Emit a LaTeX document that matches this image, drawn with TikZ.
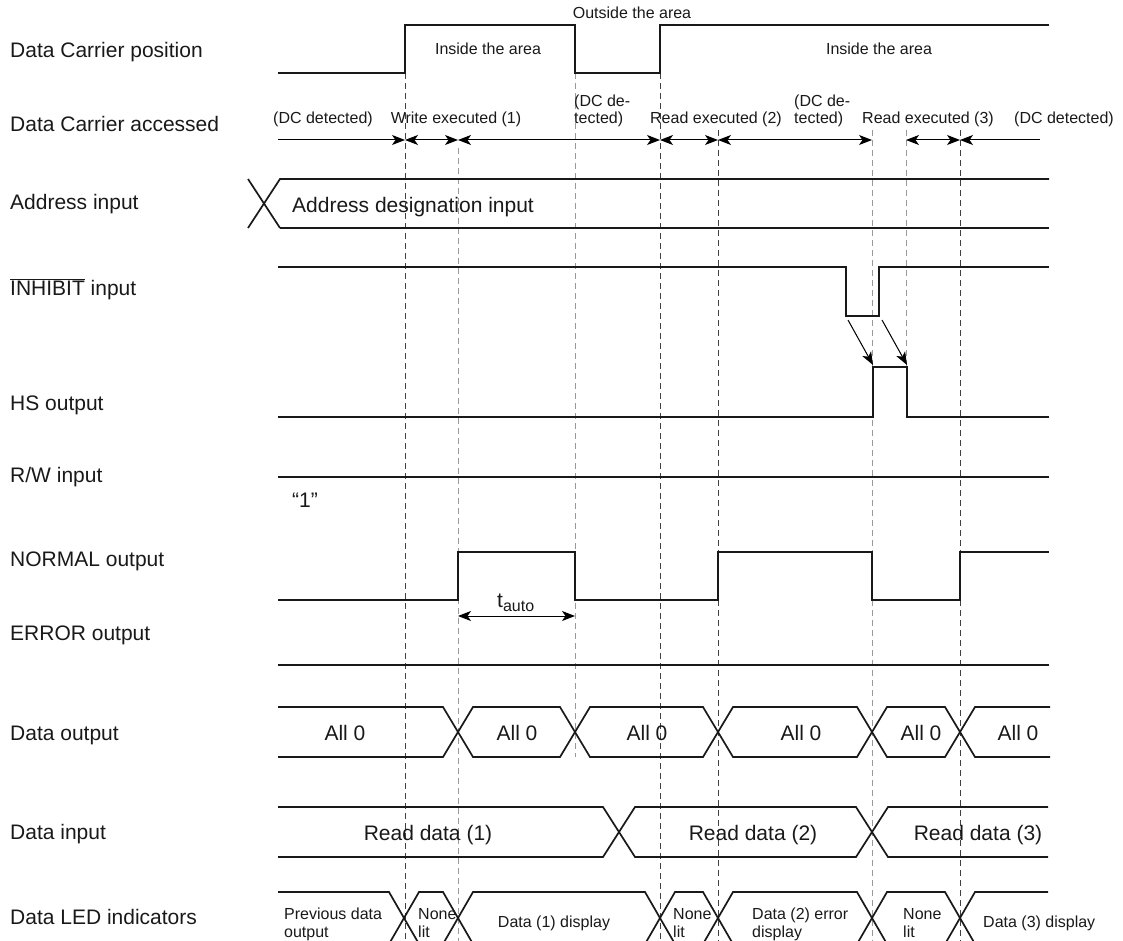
\documentclass[tikz,border=0pt]{standalone}
\usepackage{fontspec}
\setmainfont{Liberation Sans}
\usetikzlibrary{arrows.meta}
\begin{document}
\begin{tikzpicture}[x=1pt,y=-1pt,
  sig/.style={line width=2pt, line join=miter, color=black!90},
  bus/.style={line width=1.7pt, line join=miter, color=black!90},
  gdark/.style={line width=0.9pt, dash pattern=on 6pt off 4pt, color=black!75},
  glight/.style={line width=0.9pt, dash pattern=on 6pt off 4pt, color=black!40},
  acc/.style={line width=1pt},
  tip/.tip={Stealth[length=13pt,width=10pt,inset=3.5pt]},
  lbl/.style={anchor=base west, inner sep=0pt, font=\fontsize{21}{25}\selectfont, text=black!90},
  big/.style={anchor=base, inner sep=0pt, font=\fontsize{21}{25}\selectfont, text=black!90},
  sm/.style={anchor=base, inner sep=0pt, font=\fontsize{16}{19}\selectfont, text=black!90},
  smw/.style={anchor=base west, inner sep=0pt, font=\fontsize{16}{19}\selectfont, text=black!90}
]
\useasboundingbox (0,0) rectangle (1123,941);

% ---- guide lines
\draw[gdark] (405,73) -- (405,941);
\draw[gdark] (660,73) -- (660,941);
\draw[gdark] (718,130) -- (718,941);
\draw[gdark] (960,130) -- (960,941);
\draw[glight] (458,148) -- (458,941);
\draw[glight] (575,73) -- (575,757);
\draw[glight] (872,130) -- (872,941);
\draw[glight] (906,130) -- (906,367);

% ---- left labels
\node[lbl] (l1) at (10,57.5) {Data Carrier position};
\node[lbl] (l2) at (10,131.5) {Data Carrier accessed};
\node[lbl] (l3) at (10,209.5) {Address input};
\node[lbl] (l4) at (10,295.5) {$\overline{\mbox{INHIBIT}}$ input};
\node[lbl] (l5) at (10,410.5) {HS output};
\node[lbl] (l6) at (10,482.5) {R/W input};
\node[lbl] (l7) at (10,566.5) {NORMAL output};
\node[lbl] (l8) at (10,640.5) {ERROR output};
\node[lbl] (l9) at (10,740.5) {Data output};
\node[lbl] (l10) at (10,839.5) {Data input};
\node[lbl] (l11) at (10,924.5) {Data LED indicators};

% ---- Data Carrier position
\draw[sig] (278,73) -- (405,73) -- (405,25) -- (575,25) -- (575,73) -- (660,73) -- (660,25) -- (1049,25);
\node[sm] (out) at (632,19) {Outside the area};
\node[sm] (in1) at (488,55) {Inside the area};
\node[sm] (in2) at (879,55) {Inside the area};

% ---- Data Carrier accessed
\coordinate (a0) at (278,140);
\coordinate (a1) at (405,140);
\coordinate (a2) at (458,140);
\coordinate (a3) at (660,140);
\coordinate (a4) at (718,140);
\coordinate (a5) at (872,140);
\coordinate (a6) at (906,140);
\coordinate (a7) at (960,140);
\coordinate (a8) at (1040,140);
\draw[acc,-tip] (a0) -- (a1);
\draw[acc,tip-tip] (a1) -- (a2);
\draw[acc,tip-tip] (a2) -- (a3);
\draw[acc,tip-tip] (a3) -- (a4);
\draw[acc,tip-tip] (a4) -- (a5);
\draw[acc,tip-tip] (a6) -- (a7);
\draw[acc,tip-] (a7) -- (a8);
\node[sm] (t1) at (323,124) {(DC detected)};
\node[sm] (t2) at (456,124) {Write executed (1)};
\node[smw] (t3a) at (574,107) {(DC de-};
\node[smw] (t3b) at (574,124) {tected)};
\node[sm] (t4) at (716,124) {Read executed (2)};
\node[smw] (t5a) at (794,107) {(DC de-};
\node[smw] (t5b) at (794,124) {tected)};
\node[sm] (t6) at (928,124) {Read executed (3)};
\node[sm] (t7) at (1064,124) {(DC detected)};

% ---- Address input
\draw[bus] (248,179) -- (280,228);
\draw[bus] (248,228) -- (280,179) -- (1049,179);
\draw[bus] (280,228) -- (1049,228);
\node[lbl] (adr) at (292,212.5) {Address designation input};

% ---- INHIBIT input
\draw[sig] (278,267) -- (846,267) -- (846,316) -- (879,316) -- (879,267) -- (1049,267);

% ---- HS output
\draw[sig] (278,417) -- (873,417) -- (873,367) -- (907,367) -- (907,417) -- (1049,417);
\coordinate (i1) at (848,320);
\coordinate (h1) at (873,365);
\coordinate (i2) at (882,320);
\coordinate (h2) at (907,365);
\draw[acc,-tip] (i1) -- (h1);
\draw[acc,-tip] (i2) -- (h2);

% ---- R/W input
\draw[sig] (278,477) -- (1049,477);
\node[lbl] (one) at (292,507) {“1”};

% ---- NORMAL output
\draw[sig] (278,600) -- (458,600) -- (458,552) -- (575,552) -- (575,600) -- (718,600) -- (718,552) -- (872,552) -- (872,600) -- (960,600) -- (960,552) -- (1049,552);
\coordinate (ta) at (458,616);
\coordinate (tb) at (575,616);
\draw[acc,tip-tip] (ta) -- (tb);
\node[lbl] (tauto) at (497,607) {t\raisebox{-4pt}{\fontsize{16}{16}\selectfont auto}};

% ---- ERROR output
\draw[sig] (278,665) -- (1049,665);

% ---- Data output
\draw[bus] (278,707) -- (443,707) -- (473,757) -- (560,757) -- (590,707) -- (703,707) -- (733,757) -- (857,757) -- (887,707) -- (945,707) -- (975,757) -- (1050,757);
\draw[bus] (278,757) -- (443,757) -- (473,707) -- (560,707) -- (590,757) -- (703,757) -- (733,707) -- (857,707) -- (887,757) -- (945,757) -- (975,707) -- (1050,707);
\node[big] (d1) at (345,740.5) {All 0};
\node[big] (d2) at (517,740.5) {All 0};
\node[big] (d3) at (647,740.5) {All 0};
\node[big] (d4) at (801,740.5) {All 0};
\node[big] (d5) at (921,740.5) {All 0};
\node[big] (d6) at (1018,740.5) {All 0};

% ---- Data input
\draw[bus] (278,807) -- (603,807) -- (635,857) -- (856,857) -- (888,807) -- (1048,807);
\draw[bus] (278,857) -- (603,857) -- (635,807) -- (856,807) -- (888,857) -- (1048,857);
\node[big] (r1) at (428,840) {Read data (1)};
\node[big] (r2) at (753,840) {Read data (2)};
\node[big] (r3) at (978,840) {Read data (3)};

% ---- Data LED indicators
\draw[bus] (278,892) -- (389,892) -- (419,944) -- (443,944) -- (473,892) -- (645,892) -- (675,944) -- (703,944) -- (733,892) -- (857,892) -- (887,944) -- (945,944) -- (975,892) -- (1048,892);
\draw[bus] (278,944) -- (389,944) -- (419,892) -- (443,892) -- (473,944) -- (645,944) -- (675,892) -- (703,892) -- (733,944) -- (857,944) -- (887,892) -- (945,892) -- (975,944) -- (1048,944);
\node[smw] (e1a) at (284,919) {Previous data};
\node[smw] (e1b) at (284,937) {output};
\node[smw] (e2a) at (418,919) {None};
\node[smw] (e2b) at (418,937) {lit};
\node[sm] (e3) at (554,927) {Data (1) display};
\node[smw] (e4a) at (673,919) {None};
\node[smw] (e4b) at (673,937) {lit};
\node[smw] (e5a) at (752,919) {Data (2) error};
\node[smw] (e5b) at (752,937) {display};
\node[smw] (e6a) at (903,919) {None};
\node[smw] (e6b) at (903,937) {lit};
\node[smw] (e7) at (983,927) {Data (3) display};
\end{tikzpicture}
\end{document}
